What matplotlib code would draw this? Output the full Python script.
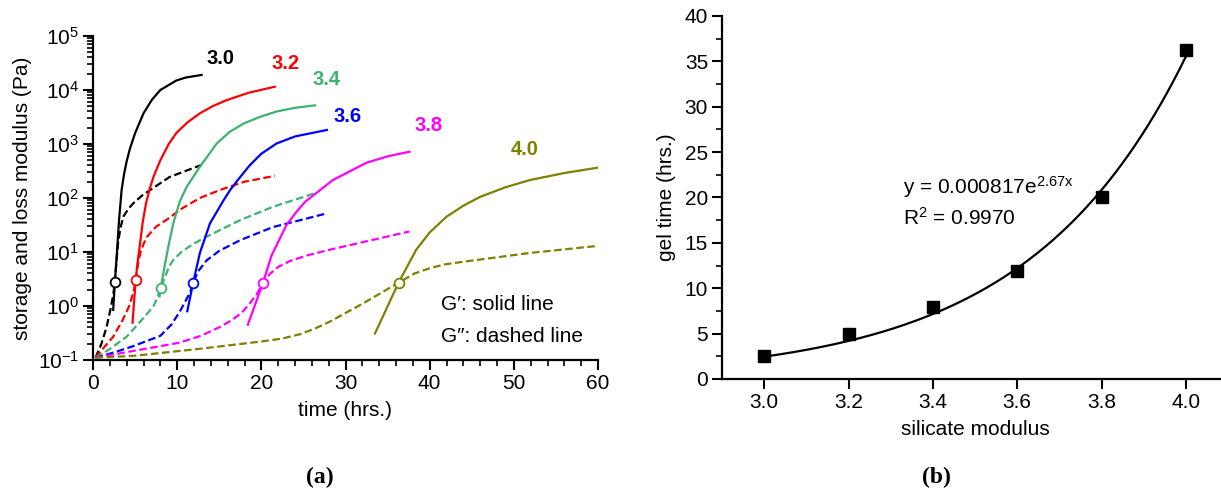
import numpy as np
import matplotlib
matplotlib.use("Agg")
import matplotlib.pyplot as plt
from matplotlib.ticker import LogLocator, MultipleLocator, FormatStrFormatter, NullFormatter

plt.rcParams['font.family'] = ['Liberation Sans', 'DejaVu Sans']
plt.rcParams['mathtext.fontset'] = 'custom'
plt.rcParams['mathtext.rm'] = 'Liberation Sans'
plt.rcParams['mathtext.it'] = 'Liberation Sans:italic'
plt.rcParams['mathtext.bf'] = 'Liberation Sans:bold'

# ---- panel (a): storage (G') and loss (G'') modulus vs time, per silicate modulus
moduli = ['3.0', '3.2', '3.4', '3.6', '3.8', '4.0']
colors = ['#000000', '#ff0000', '#3cb371', '#0000ff', '#ff00ff', '#808000']

g1_x = [2.4, 2.6, 2.85, 3.1, 3.4, 3.7, 4.0, 4.4, 5.0, 6.0, 7.0, 8.0, 9.9, 11.0, 12.9]
g1_y = [0.85, 2.8, 10, 40, 141, 282, 479, 832, 1585, 3700, 6600, 10000, 15000, 17000, 19000]
l1_x = [0.3, 1.0, 1.6, 2.1, 2.4, 2.6, 2.8, 3.0, 3.3, 3.6, 4.2, 4.8, 5.8, 6.8, 9.1, 12.9]
l1_y = [0.11, 0.2, 0.4, 0.9, 1.6, 2.8, 7.1, 16, 29.5, 45, 63, 80, 110, 141, 245, 410]

g2_x = [4.7, 5.07, 5.3, 5.58, 5.9, 6.3, 6.8, 7.2, 8.0, 9.0, 9.9, 11.2, 12.7, 14.2, 15.9, 18.5, 21.6]
g2_y = [0.49, 3.0, 6.5, 14, 35, 80, 160, 250, 500, 1000, 1600, 2500, 3700, 5000, 6500, 8900, 11500]
l2_x = [0.3, 1.0, 2.4, 3.5, 4.3, 4.8, 5.07, 5.4, 5.7, 6.0, 6.4, 7.5, 8.8, 10.5, 12.7, 15.1, 18.0, 21.6]
l2_y = [0.11, 0.15, 0.27, 0.54, 1.0, 1.8, 3.0, 6.8, 10.5, 14, 19, 29.5, 40, 63, 100, 141, 200, 257]

g3_x = [7.9, 8.05, 8.35, 8.95, 9.54, 10.3, 11.1, 12.7, 14.7, 16.2, 17.9, 19.8, 21.8, 24.0, 26.4]
g3_y = [1.5, 2.2, 4.0, 12.6, 34, 85, 158, 380, 1020, 1660, 2400, 3160, 4000, 4680, 5200]
l3_x = [0.3, 2.0, 4.0, 6.0, 7.2, 7.7, 8.05, 8.6, 9.0, 9.5, 10.5, 11.8, 13.5, 17.5, 21.4, 26.4]
l3_y = [0.11, 0.16, 0.27, 0.6, 1.0, 1.5, 2.2, 3.6, 5.2, 7.0, 10, 13.8, 19.3, 39, 69, 123]

g4_x = [11.2, 11.9, 12.7, 13.9, 15.5, 16.3, 17.2, 18.6, 20.0, 21.8, 24.0, 27.8]
g4_y = [0.8, 2.7, 9.6, 34, 90, 141, 215, 400, 660, 1020, 1380, 1820]
l4_x = [0.3, 2.5, 4.75, 8.0, 9.3, 10.3, 11.5, 11.9, 12.5, 13.5, 15.0, 17.5, 21.4, 27.8]
l4_y = [0.11, 0.138, 0.18, 0.28, 0.45, 0.78, 1.74, 2.7, 4.4, 7.0, 10.5, 16.6, 29, 52]

g5_x = [18.4, 20.2, 21.2, 23.0, 24.2, 25.2, 28.5, 32.5, 35.0, 37.6]
g5_y = [0.45, 2.7, 8.5, 32, 56, 85, 215, 450, 590, 720]
l5_x = [0.3, 4.0, 8.8, 10.3, 12.8, 15.1, 16.6, 17.7, 18.6, 19.5, 20.2, 21.0, 22.0, 23.4, 25.5, 28.1, 37.6]
l5_y = [0.11, 0.14, 0.19, 0.21, 0.28, 0.41, 0.56, 0.76, 1.1, 1.7, 2.7, 3.9, 5.3, 6.8, 8.7, 11, 24]

g6_x = [33.5, 36.3, 38.4, 40.0, 42.0, 44.0, 46.0, 49.0, 51.9, 56.0, 60.0]
g6_y = [0.31, 2.7, 11, 23, 45, 72, 105, 158, 215, 290, 365]
l6_x = [0.3, 5.0, 12.5, 20.0, 22.5, 24.6, 26.5, 28.1, 32.1, 36.3, 38.2, 40.0, 41.8, 44.0, 51.9, 60.0]
l6_y = [0.11, 0.12, 0.16, 0.22, 0.25, 0.3, 0.39, 0.51, 1.12, 2.7, 4.0, 5.0, 5.9, 6.6, 9.6, 13]

gel_x = [2.6, 5.07, 8.05, 11.9, 20.2, 36.3]
gel_y = [2.8, 3.0, 2.2, 2.7, 2.7, 2.7]

storage = [(g1_x, g1_y), (g2_x, g2_y), (g3_x, g3_y), (g4_x, g4_y), (g5_x, g5_y), (g6_x, g6_y)]
loss = [(l1_x, l1_y), (l2_x, l2_y), (l3_x, l3_y), (l4_x, l4_y), (l5_x, l5_y), (l6_x, l6_y)]

# where the curve labels sit (data coords)
label_x = [15.2, 22.9, 27.8, 30.3, 39.9, 51.3]
label_y = [39000, 31600, 15500, 3300, 2240, 780]

# ---- panel (b): gel time vs silicate modulus
sil_mod = [3.0, 3.2, 3.4, 3.6, 3.8, 4.0]
gel_time = [2.5, 5.0, 7.9, 11.9, 20.1, 36.3]
fit_a = 0.000817
fit_b = 2.67

fig = plt.figure(figsize=(12.21, 4.94), dpi=100)
ax1 = fig.add_axes([93 / 1221, 1 - 360 / 494, 505 / 1221, 324 / 494])
ax2 = fig.add_axes([722 / 1221, 1 - 379 / 494, 506 / 1221, 363 / 494])

for i in range(len(moduli)):
    c = colors[i]
    ax1.plot(storage[i][0], storage[i][1], '-', color=c, lw=1.6, zorder=3)
    ax1.plot(loss[i][0], loss[i][1], '--', color=c, lw=1.6, dashes=(3.4, 1.6), zorder=3)
    ax1.plot(gel_x[i], gel_y[i], 'o', mfc='white', mec=c, mew=1.3, ms=7, zorder=5)
    ax1.text(label_x[i], label_y[i], moduli[i], color=c, fontsize=14.5,
             fontweight='bold', ha='center', va='center')

ax1.text(41.4, 1.05, 'G\u2032: solid line', fontsize=15, va='center', ha='left')
ax1.text(41.4, 0.27, 'G\u2033: dashed line', fontsize=15, va='center', ha='left')

ax1.set_yscale('log')
ax1.set_xlim(0, 60)
ax1.set_ylim(0.1, 1e5)
ax1.xaxis.set_major_locator(MultipleLocator(10))
ax1.xaxis.set_minor_locator(MultipleLocator(2))
ax1.yaxis.set_major_locator(LogLocator(base=10, numticks=10))
ax1.yaxis.set_minor_locator(LogLocator(base=10, subs=np.arange(2, 10), numticks=20))
ax1.yaxis.set_minor_formatter(NullFormatter())
ax1.set_xlabel('time (hrs.)', fontsize=15, labelpad=6)
ax1.set_ylabel('storage and loss modulus (Pa)', fontsize=15, labelpad=4)

ax2.plot(sil_mod, gel_time, 's', color='black', ms=8.5, zorder=4)
fit_x = np.linspace(sil_mod[0], sil_mod[-1], 200)
ax2.plot(fit_x, fit_a * np.exp(fit_b * fit_x), '-', color='black', lw=1.6, zorder=3)
ax2.text(3.33, 21.2, 'y = 0.000817e$^{\\mathrm{2.67x}}$', fontsize=15, va='center', ha='left')
ax2.text(3.33, 17.8, 'R$^2$ = 0.9970', fontsize=15, va='center', ha='left')
ax2.set_xlim(2.9, 4.1)
ax2.set_ylim(0, 40)
ax2.set_xticks(sil_mod)
ax2.xaxis.set_major_formatter(FormatStrFormatter('%.1f'))
ax2.yaxis.set_major_locator(MultipleLocator(5))
ax2.yaxis.set_minor_locator(MultipleLocator(2.5))
ax2.set_xlabel('silicate modulus', fontsize=15, labelpad=6)
ax2.set_ylabel('gel time (hrs.)', fontsize=15, labelpad=6)

for ax in (ax1, ax2):
    for s in ('top', 'right'):
        ax.spines[s].set_visible(False)
    for s in ('left', 'bottom'):
        ax.spines[s].set_linewidth(1.6)
    ax.tick_params(which='major', direction='out', length=7, width=1.5, labelsize=15, pad=3)
    ax.tick_params(which='minor', direction='out', length=4, width=1.2)

fig.text(0.262, 0.022, '(a)', fontsize=17, fontfamily='Liberation Serif', fontweight='bold', ha='center')
fig.text(0.767, 0.022, '(b)', fontsize=17, fontfamily='Liberation Serif', fontweight='bold', ha='center')

fig.savefig('out.png', dpi=100)
